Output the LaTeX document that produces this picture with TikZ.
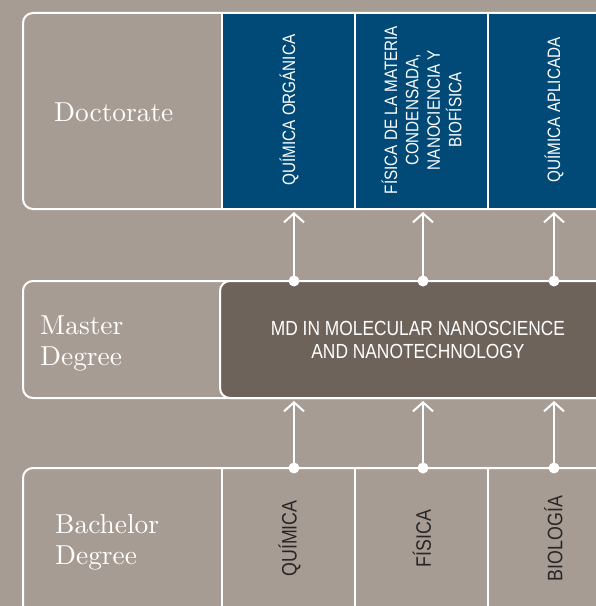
\documentclass[tikz,border=0pt]{standalone}
\usepackage{fontspec}
\newfontfamily\condfont[FakeStretch=0.85]{Liberation Sans}
\newfontfamily\rowfont{lmroman10-regular}[Extension=.otf]
\usetikzlibrary{arrows.meta}
\definecolor{bgc}{HTML}{A79C94}
\definecolor{docblue}{HTML}{014A78}
\definecolor{mdbrown}{HTML}{6E635B}
\definecolor{darktext}{HTML}{262626}
\begin{document}
\begin{tikzpicture}[x=1bp,y=-1bp,
  frame/.style={draw=white,line width=2bp,rounded corners=10bp},
  divider/.style={draw=white,line width=2bp},
  rowlbl/.style={text=white,font=\rowfont\fontsize{27.5}{31}\selectfont,align=left,inner sep=0pt,anchor=base west},
  collbl/.style={text=white,font=\condfont\fontsize{18}{21.5}\selectfont,align=center,rotate=90,inner sep=0pt},
  bachlbl/.style={text=darktext,font=\condfont\fontsize{21}{24}\selectfont,rotate=90,inner sep=0pt},
  mdlbl/.style={text=white,font=\condfont\fontsize{20.5}{24}\selectfont,align=center,inner sep=0pt},
  arr/.style={draw=white,line width=2bp,-{Straight Barb[length=9bp,width=20bp]}},
  dotc/.style={fill=white}
]
\useasboundingbox (0,0) rectangle (596,606);
\clip (0,0) rectangle (596,606);
\fill[bgc] (0,0) rectangle (596,606);

% ---------- Doctorate row ----------
\fill[docblue] (222,13) rectangle (620,209);
\draw[frame] (620,13) -- (23,13) -- (23,209) -- (620,209);
\draw[divider] (222,13) -- (222,209);
\draw[divider] (355,13) -- (355,209);
\draw[divider] (488,13) -- (488,209);
\node[rowlbl] (doct) at (54,122) {Doctorate};
\node[collbl] (qorg) at (289,110) {QUÍMICA ORGÁNICA};
\node[collbl] (fmat) at (421.5,110) {FÍSICA DE LA MATERIA\\CONDENSADA,\\NANOCIENCIA Y\\BIOFÍSICA};
\node[collbl] (qapl) at (554,110) {QUÍMICA APLICADA};

% ---------- Master row ----------
\draw[frame] (620,281) -- (23,281) -- (23,398) -- (620,398);
\draw[frame,fill=mdbrown] (620,281) -- (220,281) -- (220,398) -- (620,398);
\node[rowlbl] (mast) at (40,365) {Master\\Degree};
\node[mdlbl] (mdnano) at (418,340) {MD IN MOLECULAR NANOSCIENCE\\AND NANOTECHNOLOGY};

% ---------- Bachelor row ----------
\draw[frame] (620,468) -- (23,468) -- (23,615) -- (620,615);
\draw[divider] (222,468) -- (222,615);
\draw[divider] (355,468) -- (355,615);
\draw[divider] (488,468) -- (488,615);
\node[rowlbl] (bach) at (55,564) {Bachelor\\Degree};
\node[bachlbl] (quim) at (289.5,538.5) {QUÍMICA};
\node[bachlbl] (fisi) at (422,538.5) {FÍSICA};
\node[bachlbl] (biol) at (553.5,538.5) {BIOLOGÍA};

% ---------- connectors ----------
\coordinate (mt1) at (294,281);
\coordinate (mt2) at (423,281);
\coordinate (mt3) at (554,281);
\coordinate (dt1) at (294,212);
\coordinate (dt2) at (423,212);
\coordinate (dt3) at (554,212);
\coordinate (bt1) at (294,468);
\coordinate (bt2) at (423,468);
\coordinate (bt3) at (554,468);
\coordinate (mb1) at (294,401);
\coordinate (mb2) at (423,401);
\coordinate (mb3) at (554,401);
\foreach \i in {1,2,3}{
  \draw[arr] (mt\i) -- (dt\i);
  \draw[arr] (bt\i) -- (mb\i);
  \fill[dotc] (mt\i) circle (5.5bp);
  \fill[dotc] (bt\i) circle (5.5bp);
}
\end{tikzpicture}
\end{document}
